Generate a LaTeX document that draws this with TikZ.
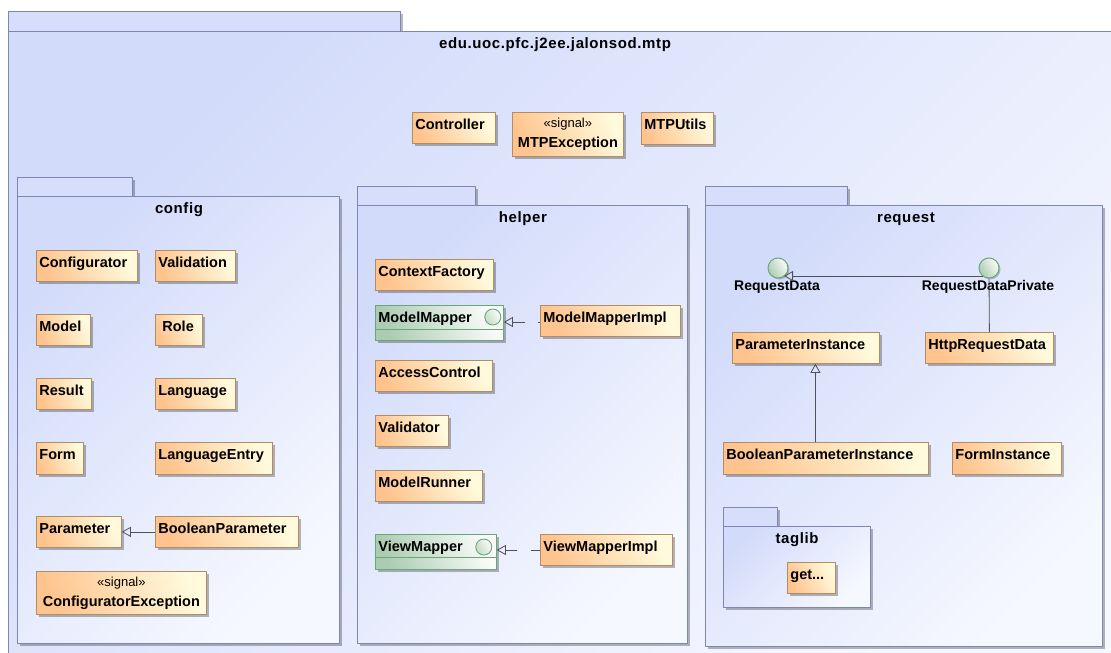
\documentclass[tikz,border=0pt]{standalone}
\usepackage{fontspec}
\setmainfont{Liberation Sans}
\newfontfamily\ttlfont[LetterSpace=4]{Liberation Sans}
\usetikzlibrary{arrows.meta,shadows}
\definecolor{pkgA}{RGB}{210,219,250}
\definecolor{pkgB}{RGB}{246,248,255}
\definecolor{pkgtabc}{RGB}{214,222,251}
\definecolor{pkgline}{RGB}{125,135,178}
\definecolor{clsA}{RGB}{255,196,142}
\definecolor{clsB}{RGB}{255,250,220}
\definecolor{clsline}{RGB}{180,140,100}
\definecolor{ifA}{RGB}{172,204,178}
\definecolor{ifB}{RGB}{250,252,250}
\definecolor{ifline}{RGB}{105,168,118}
\definecolor{edgec}{RGB}{78,80,90}
\tikzset{
  shd/.style={drop shadow={shadow xshift=2.5pt,shadow yshift=-2.5pt,opacity=.28,fill=black}},
  pkgbody/.style={draw=pkgline,line width=0.9pt,top color=pkgA,bottom color=pkgB,shading angle=45,inner sep=0pt,shd},
  pkgtab/.style={draw=pkgline,line width=0.9pt,fill=pkgtabc,inner sep=0pt,shd},
  ttl/.style={inner sep=0pt,font=\ttlfont\bfseries\fontsize{15}{18}\selectfont},
  clsbase/.style={anchor=north west,draw=clsline,line width=0.8pt,top color=clsA,bottom color=clsB,shading angle=115,shd,inner xsep=3pt,inner ysep=0pt},
  clsbox/.style={clsbase,align=left,text height=10.5pt,text depth=7.5pt,font=\bfseries\fontsize{14.5}{16}\selectfont},
  sigbox/.style={clsbase,align=center,font=\bfseries\fontsize{14.5}{20}\selectfont},
  ifbox/.style={anchor=north west,draw=ifline,line width=0.8pt,top color=ifA,bottom color=ifB,shading angle=110,shd,inner xsep=3pt,inner ysep=0pt,align=left,text height=10.5pt,text depth=11.6pt,font=\bfseries\fontsize{14.5}{16}\selectfont},
  ificon/.style={circle,draw=ifline,line width=0.9pt,inner sep=0pt,minimum size=16pt,top color=ifA!70,bottom color=ifB,shading angle=120},
  lolli/.style={circle,draw=ifline,line width=1pt,inner sep=0pt,minimum size=20pt,top color=ifA,bottom color=ifB,shading angle=120,drop shadow={shadow xshift=1.5pt,shadow yshift=-1.5pt,opacity=.2,fill=black}},
  lbl/.style={inner sep=0pt,font=\bfseries\fontsize{14}{16}\selectfont},
  gen/.style={draw=edgec,line width=0.8pt,-{Triangle[open,length=9pt,width=10pt]}},
  plain/.style={draw=edgec,line width=0.8pt},
  divider/.style={draw=ifline,line width=0.8pt}
}
\newcommand\rkcls[7]{% style name x1 y1 x2 y2 text
  \pgfmathsetmacro\rkW{#5-#3}\pgfmathsetmacro\rkH{#6-#4}\pgfmathsetmacro\rkT{#5-#3-6}%
  \node[#1,minimum width=\rkW pt,minimum height=\rkH pt,text width=\rkT pt] (#2) at (#3,#4) {#7};}
\newcommand\rkbox[6]{% style name x1 y1 x2 y2
  \pgfmathsetmacro\rkW{#5-#3}\pgfmathsetmacro\rkH{#6-#4}%
  \node[#1,anchor=north west,minimum width=\rkW pt,minimum height=\rkH pt] (#2) at (#3,#4) {};}
\newcommand\sgl{{\mdseries\fontsize{13}{20}\selectfont «signal»}}
\begin{document}
\begin{tikzpicture}[x=1pt,y=-1pt]
\useasboundingbox (0,0) rectangle (1111,653);
\clip (0,0) rectangle (1111,653);
\fill[white] (0,0) rectangle (1111,653);
% outer package
\rkbox{pkgtab}{outertab}{8}{11}{400}{31}
\rkbox{pkgbody}{outer}{8}{31}{1130}{670}
\node[ttl] (outerttl) at (555,45) {edu.uoc.pfc.j2ee.jalonsod.mtp};
\rkcls{clsbox}{ctrl}{412}{112}{495}{143}{Controller}
\rkcls{sigbox}{mtpex}{512}{112}{623}{156}{\sgl\\MTPException}
\rkcls{clsbox}{utils}{641}{112}{713}{144}{MTPUtils}
% config
\rkbox{pkgtab}{cfgtab}{17}{177}{132}{196}
\rkbox{pkgbody}{cfgpkg}{17}{196}{339}{643}
\node[ttl] (cfgttl) at (179,210) {config};
\rkcls{clsbox}{cfg}{36}{250}{137}{281}{Configurator}
\rkcls{clsbox}{val}{155}{250}{235}{281}{Validation}
\rkcls{clsbox}{mdl}{36}{314}{90}{345}{Model}
\rkcls{clsbox}{role}{155}{314}{202}{345}{\hspace{4pt}Role}
\rkcls{clsbox}{res}{36}{378}{91}{409}{Result}
\rkcls{clsbox}{lang}{155}{378}{235}{409}{Language}
\rkcls{clsbox}{form}{36}{442}{83}{474}{Form}
\rkcls{clsbox}{lent}{155}{442}{272}{474}{LanguageEntry}
\rkcls{clsbox}{par}{36}{516}{121}{547}{Parameter}
\rkcls{clsbox}{bp}{155}{516}{298}{547}{BooleanParameter}
\rkcls{sigbox}{cex}{36}{571}{206}{614}{\sgl\\ConfiguratorException}
\draw[gen] (bp.west) -- (par.east);
% helper
\rkbox{pkgtab}{hlptab}{357}{186}{475}{205}
\rkbox{pkgbody}{hlppkg}{357}{205}{687}{643}
\node[ttl] (hlpttl) at (523,219) {helper};
\rkcls{clsbox}{cf}{375}{259}{493}{290}{ContextFactory}
\rkcls{ifbox}{mm}{375}{305}{503}{340}{ModelMapper}
\draw[divider] ([yshift=-24pt]mm.north west) -- ([yshift=-24pt]mm.north east);
\node[ificon] (mmicon) at ([shift={(-11,12)}]mm.north east) {};
\rkcls{clsbox}{mmi}{540}{305}{680}{336}{ModelMapperImpl}
\rkcls{clsbox}{ac}{375}{360}{492}{391}{AccessControl}
\rkcls{clsbox}{vtor}{375}{415}{448}{446}{Validator}
\rkcls{clsbox}{mr}{375}{470}{482}{501}{ModelRunner}
\rkcls{ifbox}{vm}{375}{534}{496}{569}{ViewMapper}
\draw[divider] ([yshift=-23pt]vm.north west) -- ([yshift=-23pt]vm.north east);
\node[ificon] (vmicon) at ([shift={(-13,13)}]vm.north east) {};
\rkcls{clsbox}{vmi}{540}{534}{672}{565}{ViewMapperImpl}
\draw[gen,dash pattern=on 14pt off 13pt,dash phase=12pt] ([yshift=-17pt]mmi.north west) -- ([yshift=-17pt]mm.north east);
\draw[gen,dash pattern=on 12pt off 14pt,dash phase=3pt] ([yshift=-16pt]vmi.north west) -- ([yshift=-16pt]vm.north east);
% request
\rkbox{pkgtab}{reqtab}{705}{186}{847}{205}
\rkbox{pkgbody}{reqpkg}{705}{205}{1102}{646}
\node[ttl] (reqttl) at (906,219) {request};
\rkcls{clsbox}{pi}{732}{332}{879}{363}{ParameterInstance}
\rkcls{clsbox}{hrd}{925}{332}{1053}{363}{HttpRequestData}
\rkcls{clsbox}{bpi}{723}{442}{928}{474}{BooleanParameterInstance}
\rkcls{clsbox}{fi}{952}{442}{1061}{474}{FormInstance}
\node[lolli] (rd) at (778,268) {};
\node[lolli] (rdp) at (989,268) {};
\node[lbl] (rdlbl) at (777,287) {RequestData};
\node[lbl] (rdplbl) at (988,287) {RequestDataPrivate};
\draw[gen] ([shift={(-6,8)}]rdp.center) -- ([shift={(6,8)}]rd.center);
\draw[plain] (hrd.north) -- (rdp.south);
\draw[gen] ([xshift=-10.5pt]bpi.north) -- ([xshift=9.5pt]pi.south);
% taglib
\rkbox{pkgtab}{tagtab}{723}{507}{777}{526}
\rkbox{pkgbody}{tagpkg}{723}{526}{870}{607}
\node[ttl] (tagttl) at (797,540) {taglib};
\rkcls{clsbox}{get}{787}{562}{835}{593}{get...}
\end{tikzpicture}
\end{document}
